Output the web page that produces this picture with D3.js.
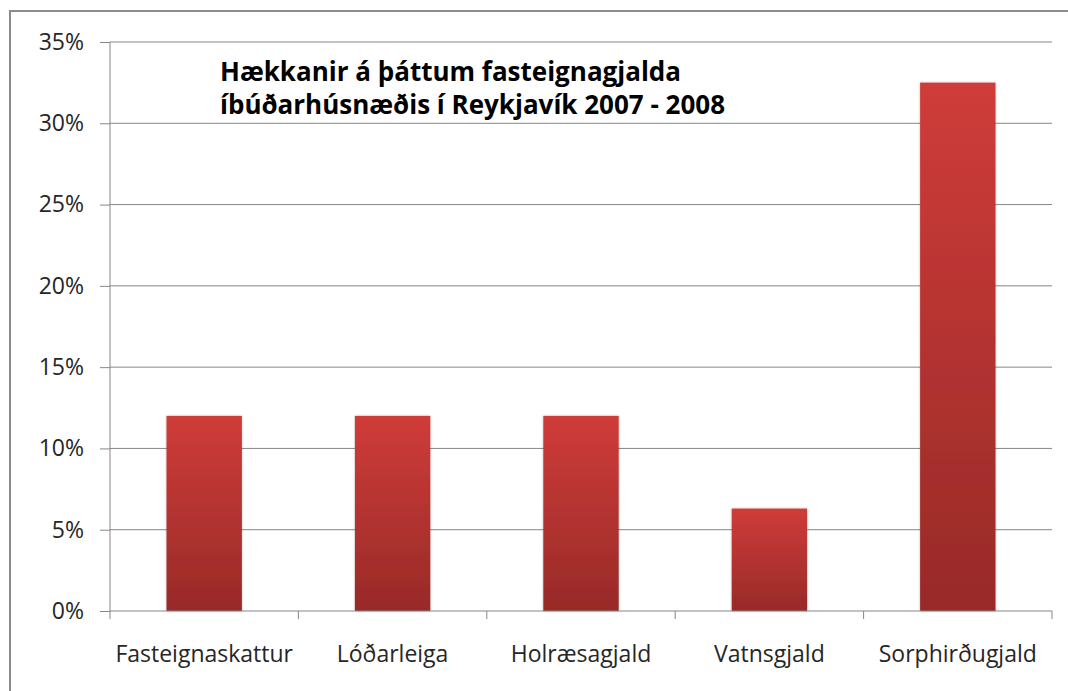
<!DOCTYPE html>
<html>
<head>
<meta charset="utf-8">
<script src="https://cdn.jsdelivr.net/npm/d3@7"></script>
<style>
  body { margin: 0; background: #fff; }
  text { font-family: "Open Sans", "Noto Sans", sans-serif; fill: #262626; }
</style>
</head>
<body>
<svg id="chart"></svg>
<script>
const categories = ['Fasteignaskattur', 'Lóðarleiga', 'Holræsagjald', 'Vatnsgjald', 'Sorphirðugjald'];
const values = [0.12, 0.12, 0.12, 0.063, 0.325];
const yTicks = [0, 0.05, 0.10, 0.15, 0.20, 0.25, 0.30, 0.35];
const titleLines = ['Hækkanir á þáttum fasteignagjalda', 'íbúðarhúsnæðis  í Reykjavík 2007 - 2008'];

const W = 1068, H = 691;
const margin = { top: 42, right: 16, bottom: 80, left: 110 };
const width = W - margin.left - margin.right;
const height = 611 - margin.top;

const svg = d3.select('#chart').attr('width', W).attr('height', H);

// outer chart border
svg.append('rect')
    .attr('x', 10).attr('y', 11)
    .attr('width', W + 10).attr('height', H + 10)
    .attr('fill', 'none')
    .attr('stroke', '#8c8c8c')
    .attr('stroke-width', 2);

const defs = svg.append('defs');
const grad = defs.append('linearGradient')
    .attr('id', 'barGrad')
    .attr('x1', 0).attr('y1', 0).attr('x2', 0).attr('y2', 1);
grad.append('stop').attr('offset', '0%').attr('stop-color', '#cf3c39');
grad.append('stop').attr('offset', '100%').attr('stop-color', '#982a28');

const shadow = defs.append('filter').attr('id', 'shadow')
    .attr('x', '-10%').attr('y', '-5%').attr('width', '120%').attr('height', '110%');
shadow.append('feDropShadow')
    .attr('dx', 0).attr('dy', 0).attr('stdDeviation', 1.2)
    .attr('flood-color', '#000').attr('flood-opacity', 0.3);

const g = svg.append('g').attr('transform', `translate(${margin.left},${margin.top})`);

const x = d3.scaleBand().domain(categories).range([0, width])
    .paddingInner(0.6).paddingOuter(0.3);
const y = d3.scaleLinear().domain([0, 0.35]).range([height, 0]);

// gridlines
g.selectAll('.grid')
    .data(yTicks.slice(1))
    .join('line')
    .attr('class', 'grid')
    .attr('x1', 0).attr('x2', width)
    .attr('y1', d => y(d)).attr('y2', d => y(d))
    .attr('stroke', '#868686').attr('stroke-width', 1);

// y axis
const yAxis = g.append('g')
    .call(d3.axisLeft(y).tickValues(yTicks).tickFormat(d3.format('.0%')).tickSize(10).tickPadding(16));
yAxis.select('.domain').attr('stroke', '#868686').attr('d', `M0,${height}V0`);
yAxis.selectAll('.tick line').attr('stroke', '#868686');
yAxis.selectAll('.tick text').attr('font-size', 23).attr('fill', '#262626');

// bars
g.selectAll('.bar')
    .data(categories)
    .join('rect')
    .attr('class', 'bar')
    .attr('x', d => x(d))
    .attr('y', (d, i) => y(values[i]))
    .attr('width', x.bandwidth())
    .attr('height', (d, i) => height - y(values[i]))
    .attr('fill', 'url(#barGrad)')
    .attr('filter', 'url(#shadow)');

// x axis with ticks at category boundaries
const step = x.step();
const boundaries = d3.range(categories.length + 1).map(i => i * step);
g.append('line')
    .attr('x1', 0).attr('x2', width)
    .attr('y1', height).attr('y2', height)
    .attr('stroke', '#868686');
g.selectAll('.xtick')
    .data(boundaries)
    .join('line')
    .attr('class', 'xtick')
    .attr('x1', d => d).attr('x2', d => d)
    .attr('y1', height).attr('y2', height + 8)
    .attr('stroke', '#868686');
g.selectAll('.xlabel')
    .data(categories)
    .join('text')
    .attr('class', 'xlabel')
    .attr('x', d => x(d) + x.bandwidth() / 2)
    .attr('y', height + 51)
    .attr('text-anchor', 'middle')
    .attr('font-size', 23)
    .text(d => d);

// title
svg.selectAll('.title')
    .data(titleLines)
    .join('text')
    .attr('class', 'title')
    .attr('x', 220)
    .attr('y', (d, i) => 81 + i * 33)
    .attr('font-size', 26)
    .attr('font-weight', 'bold')
    .style('fill', '#000')
    .text(d => d);
</script>
</body>
</html>
